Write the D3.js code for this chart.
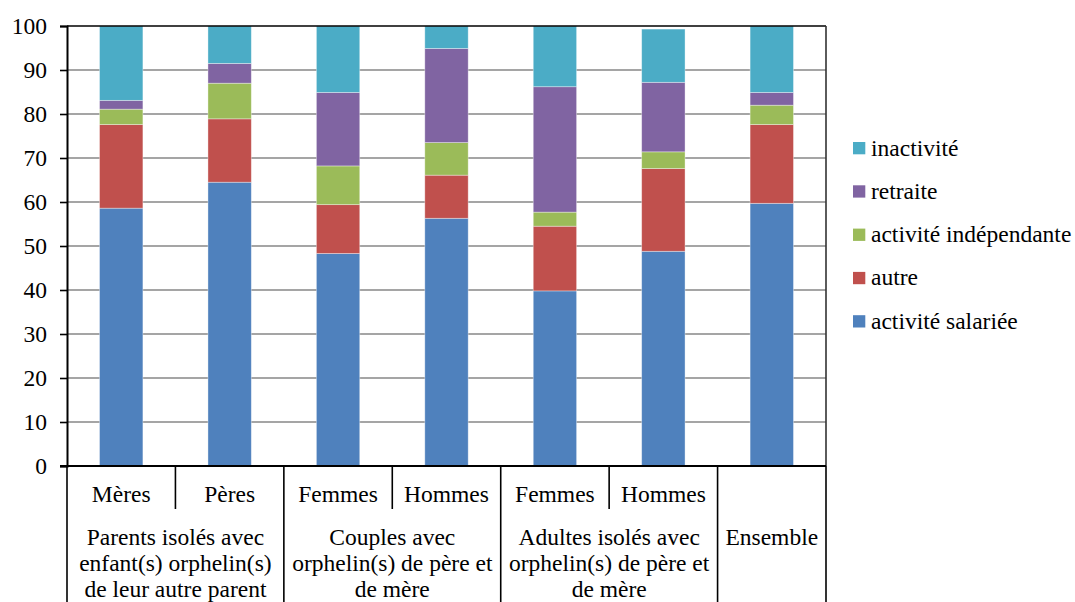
<!DOCTYPE html>
<html>
<head>
<meta charset="utf-8">
<script src="https://cdn.jsdelivr.net/npm/d3@7"></script>
<style>
  html, body { margin: 0; padding: 0; background: #fff; }
  svg { display: block; }
  svg text { font-family: 'Liberation Serif', 'Times New Roman', Times, 'DejaVu Serif', serif !important; fill: #000; }
</style>
</head>
<body>
<svg id="chart" width="1075" height="602"></svg>
<script>
// Sub-categories along the x axis, and the group each one belongs to
const categories = ["Mères", "Pères", "Femmes", "Hommes", "Femmes", "Hommes", ""];
const groups = [
  { lines: ["Parents isolés avec", "enfant(s) orphelin(s)", "de leur autre parent"], from: 0, to: 1 },
  { lines: ["Couples avec", "orphelin(s) de père et", "de mère"], from: 2, to: 3 },
  { lines: ["Adultes isolés avec", "orphelin(s) de père et", "de mère"], from: 4, to: 5 },
  { lines: ["Ensemble"], from: 6, to: 6 }
];

// Shares (%) per activity status, stacked bottom to top
const seriesNames = ["activité salariée", "autre", "activité indépendante", "retraite", "inactivité"];
const salariee     = [58.6, 64.5, 48.3, 56.3, 39.8, 48.8, 59.7];
const autre        = [19.0, 14.4, 11.1,  9.8, 14.7, 18.8, 17.9];
const independante = [ 3.5,  8.1,  8.8,  7.4,  3.2,  3.8,  4.4];
const retraite     = [ 2.0,  4.5, 16.7, 21.4, 28.5, 15.8,  2.9];
const inactivite   = [16.9,  8.5, 15.1,  5.1, 13.8, 12.1, 15.1];
const yTicks = [0, 10, 20, 30, 40, 50, 60, 70, 80, 90, 100];

const colors = ["#4f81bd", "#c0504d", "#9bbb59", "#8064a2", "#4bacc6"];

const seriesValues = [salariee, autre, independante, retraite, inactivite];
const rows = categories.map((c, i) => {
  const r = { idx: i };
  seriesNames.forEach((s, k) => { r[s] = seriesValues[k][i]; });
  return r;
});

const svg = d3.select("#chart");
const plot = { left: 67, right: 826, top: 26, bottom: 466 };
const fontSize = 23.5;

const x = d3.scaleBand().domain(d3.range(categories.length)).range([plot.left, plot.right]).paddingInner(0).paddingOuter(0);
const y = d3.scaleLinear().domain([0, 100]).range([plot.bottom, plot.top]);
const barW = x.bandwidth() * 0.4;

// Horizontal gridlines
svg.append("g")
  .selectAll("line")
  .data(yTicks.filter(t => t > 0 && t < 100))
  .join("line")
  .attr("x1", plot.left).attr("x2", plot.right)
  .attr("y1", d => y(d)).attr("y2", d => y(d))
  .attr("stroke", "#878787").attr("stroke-width", 1.3);

// Stacked bars
const stack = d3.stack().keys(seriesNames)(rows);
svg.append("g")
  .selectAll("g")
  .data(stack)
  .join("g")
  .attr("fill", (d, i) => colors[i])
  .selectAll("rect")
  .data(d => d)
  .join("rect")
  .attr("x", d => x(d.data.idx) + (x.bandwidth() - barW) / 2)
  .attr("width", barW)
  .attr("y", d => y(d[1]))
  .attr("height", d => y(d[0]) - y(d[1]))
  .attr("stroke", "#ffffff").attr("stroke-opacity", 0.45).attr("stroke-width", 0.8);

// Plot frame: top and right borders
svg.append("line").attr("x1", plot.left).attr("x2", plot.right).attr("y1", plot.top).attr("y2", plot.top)
  .attr("stroke", "#000").attr("stroke-width", 1.6);
svg.append("line").attr("x1", plot.right).attr("x2", plot.right).attr("y1", plot.top).attr("y2", plot.bottom)
  .attr("stroke", "#333").attr("stroke-width", 1.6);

// Y axis
const yAxis = d3.axisLeft(y).tickValues(yTicks).tickSize(7).tickPadding(13);
const gy = svg.append("g").attr("transform", `translate(${plot.left},0)`).call(yAxis);
gy.attr("font-family", null);
gy.select(".domain").attr("stroke", "#000").attr("stroke-width", 2);
gy.selectAll(".tick line").attr("stroke", "#000").attr("stroke-width", 1.6);
gy.selectAll(".tick text").attr("font-size", fontSize).attr("dy", "0.33em");

// X axis baseline
svg.append("line").attr("x1", plot.left - 7).attr("x2", plot.right).attr("y1", plot.bottom).attr("y2", plot.bottom)
  .attr("stroke", "#000").attr("stroke-width", 2);

// Category separators below the axis: short between sub-categories, long between groups
const groupStarts = new Set(groups.map(g => g.from));
const boundaries = d3.range(categories.length + 1);
svg.append("g")
  .selectAll("line")
  .data(boundaries)
  .join("line")
  .attr("x1", i => i < categories.length ? x(i) : plot.right)
  .attr("x2", i => i < categories.length ? x(i) : plot.right)
  .attr("y1", plot.bottom)
  .attr("y2", i => (i === categories.length || groupStarts.has(i)) ? 602 : 509)
  .attr("stroke", "#000").attr("stroke-width", 1.6);

// Sub-category labels
svg.append("g")
  .selectAll("text")
  .data(categories)
  .join("text")
  .attr("x", (d, i) => x(i) + x.bandwidth() / 2)
  .attr("y", 502)
  .attr("text-anchor", "middle")
  .attr("font-size", fontSize)
  .text(d => d);

// Group labels
const gl = svg.append("g");
groups.forEach(g => {
  const cx = (x(g.from) + x(g.to) + x.bandwidth()) / 2;
  g.lines.forEach((ln, j) => {
    gl.append("text")
      .attr("x", cx)
      .attr("y", 545 + j * 26)
      .attr("text-anchor", "middle")
      .attr("font-size", fontSize)
      .text(ln);
  });
});

// Legend, top entry is the top of the stack
const legendItems = seriesNames.map((s, i) => ({ name: s, color: colors[i] })).reverse();
const lg = svg.append("g");
legendItems.forEach((d, i) => {
  const cy = 148 + i * 43.3;
  lg.append("rect").attr("x", 853).attr("y", cy - 6).attr("width", 12.3).attr("height", 12.3).attr("fill", d.color);
  lg.append("text").attr("x", 871).attr("y", cy + 7.5).attr("font-size", fontSize).text(d.name);
});
</script>
</body>
</html>
